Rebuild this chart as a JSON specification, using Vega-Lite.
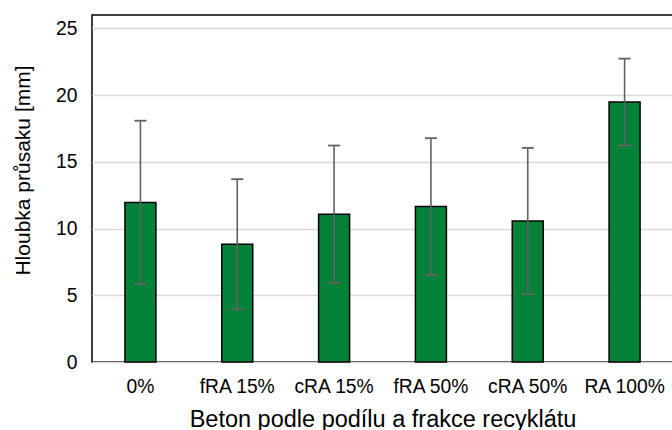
{
  "$schema": "https://vega.github.io/schema/vega-lite/v6.json",
  "autosize": {"type": "none"},
  "padding": {"left": 92, "top": 15, "right": 0, "bottom": 68},
  "width": 581,
  "height": 347,
  "background": "white",
  "config": {
    "font": "Liberation Sans",
    "view": {"stroke": "black", "strokeWidth": 1.5},
    "axis": {
      "domain": false,
      "ticks": false,
      "labelColor": "black",
      "titleColor": "black",
      "labelFont": "Liberation Sans",
      "titleFont": "Liberation Sans",
      "titleFontWeight": "normal"
    }
  },
  "data": {
    "values": [
      {"beton": "0%", "hloubka": 11.95, "lo": 5.85, "hi": 18.08},
      {"beton": "fRA 15%", "hloubka": 8.83, "lo": 3.95, "hi": 13.70},
      {"beton": "cRA 15%", "hloubka": 11.07, "lo": 5.92, "hi": 16.22},
      {"beton": "fRA 50%", "hloubka": 11.65, "lo": 6.51, "hi": 16.77},
      {"beton": "cRA 50%", "hloubka": 10.56, "lo": 5.09, "hi": 16.04},
      {"beton": "RA 100%", "hloubka": 19.48, "lo": 16.21, "hi": 22.73}
    ]
  },
  "encoding": {
    "x": {
      "field": "beton",
      "type": "nominal",
      "sort": null,
      "scale": {"paddingInner": 0.68, "paddingOuter": 0.34},
      "axis": {
        "title": "Beton podle podílu a frakce recyklátu",
        "labelAngle": 0,
        "labelFontSize": 19.3,
        "labelPadding": 15,
        "titleFontSize": 23.5,
        "titlePadding": 11,
        "grid": false
      }
    }
  },
  "layer": [
    {
      "mark": {"type": "bar", "fill": "#05823A", "stroke": "black", "strokeWidth": 1.5},
      "encoding": {
        "y": {
          "field": "hloubka",
          "type": "quantitative",
          "title": "Hloubka průsaku [mm]",
          "scale": {"domain": [0, 25]},
          "axis": {
            "values": [0, 5, 10, 15, 20, 25],
            "labelFontSize": 19.3,
            "labelPadding": 15,
            "titleFontSize": 21,
            "titlePadding": 22,
            "titleY": 155,
            "grid": true,
            "gridColor": "#d9d9d9",
            "gridWidth": 1.3
          }
        }
      }
    },
    {
      "mark": {"type": "rule", "color": "#626262", "strokeWidth": 1.6},
      "encoding": {
        "y": {"field": "lo", "type": "quantitative", "title": "Hloubka průsaku [mm]"},
        "y2": {"field": "hi"}
      }
    },
    {
      "mark": {"type": "point", "shape": "stroke", "filled": false, "color": "#626262", "strokeWidth": 1.8, "size": 144, "opacity": 1},
      "encoding": {
        "y": {"field": "lo", "type": "quantitative", "title": "Hloubka průsaku [mm]"}
      }
    },
    {
      "mark": {"type": "point", "shape": "stroke", "filled": false, "color": "#626262", "strokeWidth": 1.8, "size": 144, "opacity": 1},
      "encoding": {
        "y": {"field": "hi", "type": "quantitative", "title": "Hloubka průsaku [mm]"}
      }
    }
  ]
}
